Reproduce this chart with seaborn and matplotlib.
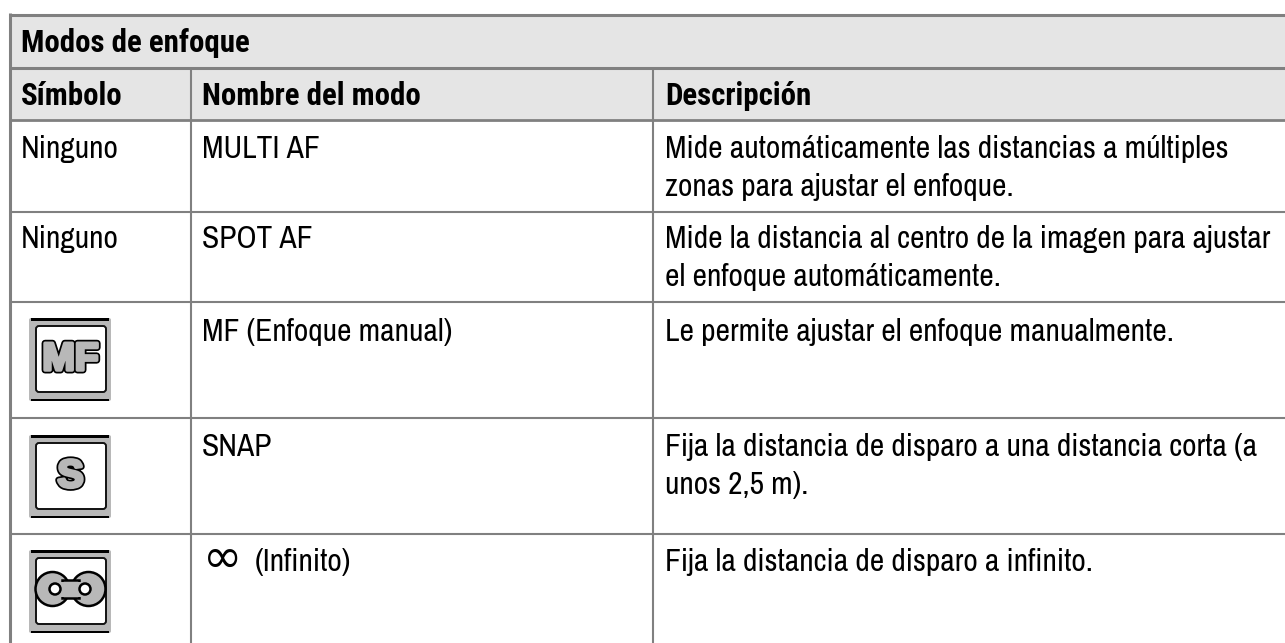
import matplotlib
matplotlib.use("Agg")
import matplotlib.pyplot as plt
import matplotlib.patheffects as pe
from matplotlib.patches import Circle, FancyBboxPatch, Rectangle
import seaborn as sns
import pandas as pd

# table content
title = "Modos de enfoque"
headers = ["Símbolo", "Nombre del modo", "Descripción"]
symbols = ["Ninguno", "Ninguno", "MF", "S", "∞"]
modes = ["MULTI AF", "SPOT AF", "MF (Enfoque manual)", "SNAP", "(Infinito)"]
descriptions = [
    ["Mide automáticamente las distancias a múltiples", "zonas para ajustar el enfoque."],
    ["Mide la distancia al centro de la imagen para ajustar", "el enfoque automáticamente."],
    ["Le permite ajustar el enfoque manualmente."],
    ["Fija la distancia de disparo a una distancia corta (a", "unos 2,5 m)."],
    ["Fija la distancia de disparo a infinito."],
]

W, H = 1285, 643
LINE = "#808080"
HEAD = "#e5e5e5"
ICON = "#b8b8b8"
row_lines = [120, 211.5, 301.5, 417.5, 533.5]
row_base = [158, 248, 341, 456, 571]
col_x = [10, 191, 653]
text_x = [21, 202, 665]
icon_top = [318, 435, 550]

sns.set_theme(style="white")
REG = ["Archivo Narrow", "Roboto Condensed", "Liberation Sans", "DejaVu Sans"]
BOLD = ["Roboto Condensed", "Liberation Sans", "DejaVu Sans"]
plt.rcParams["font.family"] = REG
FS = 22.7
FS_BOLD = 22.2

fig = plt.figure(figsize=(W / 100, H / 100), dpi=100)
ax = fig.add_axes([0, 0, 1, 1])
ax.set_xlim(0, W)
ax.set_ylim(H, 0)
ax.axis("off")

# header band, two equal rows
ax_head = fig.add_axes([10 / W, 1 - 120 / H, (W - 10) / W, (120 - 15) / H], zorder=0)
sns.heatmap(pd.DataFrame([[0], [0]]), ax=ax_head, cbar=False, cmap=sns.color_palette([HEAD]),
            xticklabels=False, yticklabels=False)
ax.set_zorder(1)
ax.patch.set_alpha(0)

ax.hlines(14.5, 10, W, color=LINE, lw=2.2)
ax.hlines(67.5, 10, W, color=LINE, lw=2.2)
for y, lw in zip(row_lines, [2.0, 1.5, 1.5, 1.5, 1.5]):
    ax.hlines(y, 10, W, color=LINE, lw=lw)
ax.vlines(9.5, 13, H, color=LINE, lw=2.2)
ax.vlines(col_x[1], 68, H, color=LINE, lw=1.5)
ax.vlines(col_x[2], 68, H, color=LINE, lw=1.5)

ax.text(text_x[0], 52, title, fontsize=FS_BOLD, fontweight="bold", family=BOLD, color="black", va="baseline")
for x, h in zip(text_x, headers):
    ax.text(x, 105, h, fontsize=FS_BOLD, fontweight="bold", family=BOLD, color="black", va="baseline")

for i in range(5):
    if symbols[i] == "Ninguno":
        ax.text(text_x[0], row_base[i], symbols[i], fontsize=FS, color="black", va="baseline")
    if symbols[i] == "∞":
        ax.text(text_x[1] + 1, row_base[i] + 1, "∞", fontsize=34, color="black", va="baseline",
                family="DejaVu Sans")
        ax.text(255, row_base[i], modes[i], fontsize=FS, color="black", va="baseline")
    else:
        ax.text(text_x[1], row_base[i], modes[i], fontsize=FS, color="black", va="baseline")
    for k, line in enumerate(descriptions[i]):
        ax.text(text_x[2], row_base[i] + 38 * k, line, fontsize=FS, color="black", va="baseline")

# mode icons
for top, sym in zip(icon_top, symbols[2:]):
    ax.add_patch(FancyBboxPatch((29, top), 82, 83, boxstyle="round,pad=0,rounding_size=2", fc=ICON, ec="none"))
    ax.add_patch(Rectangle((31, top), 78, 2.5, fc="black", ec="none"))
    ax.add_patch(Rectangle((31, top + 80.5), 78, 2.5, fc="black", ec="none"))
    ax.add_patch(FancyBboxPatch((36, top + 8), 70, 66, boxstyle="round,pad=0,rounding_size=3",
                                fc="white", ec="#111111", lw=1.4))
    if sym == "∞":
        for cx in [52.5, 88.5]:
            ax.add_patch(Circle((cx, top + 39), 17, fc=ICON, ec="black", lw=1.8))
        ax.add_patch(Rectangle((62, top + 30), 17, 18, fc=ICON, ec="black", lw=1.8))
        ax.add_patch(Rectangle((59, top + 31.5), 23, 15, fc=ICON, ec="none"))
        for cx in [55, 85]:
            ax.add_patch(Circle((cx, top + 39), 5.5, fc="white", ec="black", lw=1.8))
    else:
        ax.text(70.5, top + 42, sym, fontsize=28, fontweight="bold", family="Liberation Sans",
                color=ICON, ha="center", va="center",
                path_effects=[pe.Stroke(linewidth=5, foreground="black"),
                              pe.Stroke(linewidth=2.5, foreground=ICON), pe.Normal()])

fig.savefig("out.png", dpi=100)
